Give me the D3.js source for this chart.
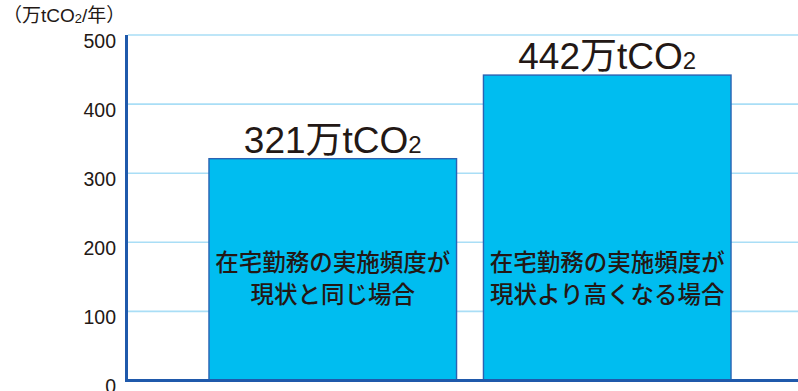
<!DOCTYPE html>
<html>
<head>
<meta charset="utf-8">
<script src="https://cdn.jsdelivr.net/npm/d3@7"></script>
<style>
  html, body { margin: 0; padding: 0; background: #fff; }
  svg { display: block; }
  text { font-family: "Liberation Sans", Arial, "Noto Sans CJK JP", sans-serif; fill: #231815; }
  .cjk { font-family: "Noto Sans CJK JP", sans-serif; }
</style>
</head>
<body>
<svg id="chart" width="798" height="391"></svg>
<script>
// Annual CO2 reduction (万tCO2/年) under two telework scenarios
const categories = ["現状", "高頻度"];
const categoryLines = [
  ["在宅勤務の実施頻度が", "現状と同じ場合"],
  ["在宅勤務の実施頻度が", "現状より高くなる場合"]
];
const values = [321, 442];
const yTicks = [0, 100, 200, 300, 400, 500];

const svg = d3.select("#chart");
const W = 798, H = 391;
const left = 128;

const y = d3.scaleLinear().domain([0, 500]).range([380.5, 35]);
const x = d3.scaleBand().domain(categories).range([142, 798])
  .paddingInner(0.098).paddingOuter(0.244);

// gridlines
svg.append("g").selectAll("line").data(yTicks.filter(d => d > 0)).join("line")
  .attr("x1", left).attr("x2", W)
  .attr("y1", d => y(d)).attr("y2", d => y(d))
  .attr("stroke", "#a9def6").attr("stroke-width", 1.6);

// bars
svg.append("g").selectAll("rect").data(values).join("rect")
  .attr("x", (d, i) => x(categories[i]))
  .attr("width", x.bandwidth())
  .attr("y", d => y(d))
  .attr("height", d => y(0) - y(d))
  .attr("fill", "#00bdf0")
  .attr("stroke", "#2b62b2").attr("stroke-width", 1.4);

// axis lines
svg.append("line").attr("x1", 126.5).attr("x2", 126.5).attr("y1", 35).attr("y2", 382)
  .attr("stroke", "#1f59ab").attr("stroke-width", 3);
svg.append("line").attr("x1", 125).attr("x2", W).attr("y1", 380.5).attr("y2", 380.5)
  .attr("stroke", "#1f59ab").attr("stroke-width", 3);

// y tick labels (sit a little below their gridline)
const yAxis = d3.axisLeft(y).tickValues(yTicks).tickSize(0).tickPadding(0);
const gy = svg.append("g").attr("transform", "translate(116,5)").call(yAxis);
gy.select(".domain").remove();
gy.selectAll("text").attr("font-size", 19.5).attr("dy", "0.36em")
  .style("font-family", "'Liberation Sans', Arial, sans-serif").attr("fill", "#231815");

// unit label
const unit = svg.append("text").attr("x", 3).attr("y", 22).attr("font-size", 19);
unit.append("tspan").text("（万tCO");
unit.append("tspan").attr("font-size", 13).attr("dy", 1).text("2");
unit.append("tspan").attr("dy", -1).text("/年）");

// value labels above bars
const vl = svg.append("g").selectAll("text").data(values).join("text")
  .attr("x", (d, i) => x(categories[i]) + x.bandwidth() / 2)
  .attr("y", d => y(d) - 6)
  .attr("text-anchor", "middle")
  .attr("font-size", 37);
vl.append("tspan").text(d => d + "万tCO");
vl.append("tspan").attr("font-size", 24).attr("dy", 0).text("2");

// category labels inside bars
categoryLines.forEach((lines, i) => {
  svg.append("text")
    .attr("class", "cjk")
    .attr("x", x(categories[i]) + x.bandwidth() / 2)
    .attr("y", 271)
    .attr("text-anchor", "middle")
    .attr("font-size", 23.5)
    .attr("font-weight", 500)
    .selectAll("tspan").data(lines).join("tspan")
    .attr("x", x(categories[i]) + x.bandwidth() / 2)
    .attr("dy", (d, j) => j === 0 ? 0 : 32)
    .text(d => d);
});
</script>
</body>
</html>
